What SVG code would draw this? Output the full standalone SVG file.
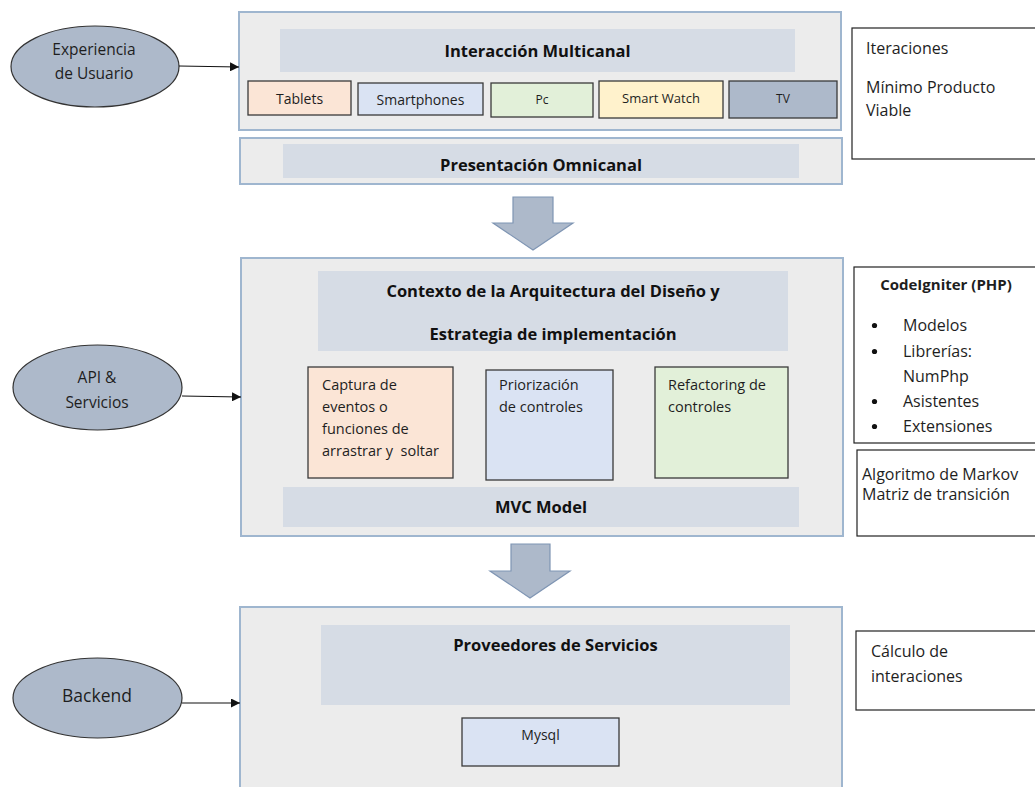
<svg xmlns="http://www.w3.org/2000/svg" width="1035" height="787" viewBox="0 0 1035 787">
  <style>
    text { font-family: "Open Sans", "Liberation Sans", sans-serif; fill: #1e1e1e; }
    .panel { fill: #ececec; stroke: #9fb6cf; stroke-width: 2; }
    .bar { fill: #d6dce5; }
    .title { font-size: 16.5px; font-weight: bold; fill: #111; text-anchor: middle; }
    .box { stroke: #3a3a3a; stroke-width: 1.3; }
    .dev { font-size: 14px; text-anchor: middle; }
    .small { font-size: 13px; text-anchor: middle; }
    .tiny { font-size: 12px; text-anchor: middle; }
    .body { font-size: 14.5px; white-space: pre; }
    .side { font-size: 16px; }
    .dot { fill: #111; }
    .note { fill: #ffffff; stroke: #222; stroke-width: 1.2; }
    .ell { fill: #adb9ca; stroke: #333; stroke-width: 1.2; }
    .etxt { font-size: 15.5px; text-anchor: middle; }
    .peach { fill: #fbe5d6; }
    .blue { fill: #dae3f3; }
    .green { fill: #e2f0d9; }
    .yellow { fill: #fff2cc; }
    .slate { fill: #adb9ca; }
    .flow { fill: #adb9ca; stroke: #7f95b3; stroke-width: 1.2; }
    .link { stroke: #111; stroke-width: 1.1; fill: none; marker-end: url(#tip); }
  </style>
  <defs>
    <marker id="tip" viewBox="0 0 10 10" refX="10" refY="5" markerWidth="9" markerHeight="9" markerUnits="userSpaceOnUse" orient="auto">
      <path d="M0,0 L10,5 L0,10 Z" fill="#111"/>
    </marker>
  </defs>

  <rect width="1035" height="787" fill="#ffffff"/>

  <!-- Multichannel interaction layer -->
  <g id="interaccion">
    <rect class="panel" x="239" y="12" width="602" height="118"/>
    <rect class="bar" x="280" y="29" width="515" height="43"/>
    <text class="title" x="537.5" y="57">Interacción Multicanal</text>
    <g id="tablets">
      <rect class="box peach" x="248" y="81" width="103" height="34"/>
      <text class="dev" x="299.5" y="104">Tablets</text>
    </g>
    <g id="smartphones">
      <rect class="box blue" x="358" y="83" width="125" height="32"/>
      <text class="dev" x="420.5" y="105">Smartphones</text>
    </g>
    <g id="pc">
      <rect class="box green" x="491" y="83" width="102" height="34"/>
      <text class="tiny" x="542" y="104">Pc</text>
    </g>
    <g id="smartwatch">
      <rect class="box yellow" x="599" y="81" width="124" height="37"/>
      <text class="small" x="661" y="103">Smart Watch</text>
    </g>
    <g id="tv">
      <rect class="box slate" x="729" y="81" width="108" height="37"/>
      <text class="tiny" x="783" y="103">TV</text>
    </g>
  </g>

  <!-- Omnichannel presentation layer -->
  <g id="presentacion">
    <rect class="panel" x="240" y="138" width="602" height="46"/>
    <rect class="bar" x="283" y="144" width="516" height="34"/>
    <text class="title" x="541" y="171">Presentación Omnicanal</text>
  </g>

  <!-- Architecture context layer -->
  <g id="contexto">
    <rect class="panel" x="241" y="258" width="602" height="278"/>
    <rect class="bar" x="318" y="271" width="470" height="80"/>
    <text class="title" x="553" y="297">Contexto de la Arquitectura del Diseño y</text>
    <text class="title" x="553" y="340">Estrategia de implementación</text>
    <g id="captura">
      <rect class="box peach" x="308" y="367" width="145" height="111"/>
      <text class="body" x="322" y="390">Captura de</text>
      <text class="body" x="322" y="412">eventos o</text>
      <text class="body" x="322" y="434">funciones de</text>
      <text class="body" x="322" y="456" xml:space="preserve">arrastrar y  soltar</text>
    </g>
    <g id="priorizacion">
      <rect class="box blue" x="486" y="370" width="127" height="110"/>
      <text class="body" x="499" y="390">Priorización</text>
      <text class="body" x="499" y="412">de controles</text>
    </g>
    <g id="refactoring">
      <rect class="box green" x="655" y="367" width="133" height="111"/>
      <text class="body" x="668" y="390">Refactoring de</text>
      <text class="body" x="668" y="412">controles</text>
    </g>
    <rect class="bar" x="283" y="487" width="516" height="40"/>
    <text class="title" x="541" y="513">MVC Model</text>
  </g>

  <!-- Service providers layer -->
  <g id="proveedores">
    <rect class="panel" x="240" y="607" width="602" height="200"/>
    <rect class="bar" x="321" y="625" width="469" height="80"/>
    <text class="title" x="555.5" y="651">Proveedores de Servicios</text>
    <g id="mysql">
      <rect class="box blue" x="462" y="718" width="157" height="48"/>
      <text class="dev" x="540.5" y="740">Mysql</text>
    </g>
  </g>

  <!-- Actors on the left -->
  <g id="experiencia">
    <ellipse class="ell" cx="95" cy="66.5" rx="84" ry="40.5"/>
    <text class="etxt" x="94" y="55">Experiencia</text>
    <text class="etxt" x="94" y="79">de Usuario</text>
  </g>
  <g id="api">
    <ellipse class="ell" cx="97.5" cy="387.5" rx="84.5" ry="42.5"/>
    <text class="etxt" x="97" y="383">API &amp;</text>
    <text class="etxt" x="97" y="408">Servicios</text>
  </g>
  <g id="backend">
    <ellipse class="ell" cx="97.5" cy="698" rx="84.5" ry="40"/>
    <text class="etxt" x="97" y="702" style="font-size:17.5px">Backend</text>
  </g>

  <!-- Notes on the right -->
  <g id="nota-iteraciones">
    <rect class="note" x="852" y="28" width="200" height="131"/>
    <text class="side" x="866" y="54">Iteraciones</text>
    <text class="side" x="866" y="93">Mínimo Producto</text>
    <text class="side" x="866" y="116">Viable</text>
  </g>
  <g id="nota-codeigniter">
    <rect class="note" x="854" y="267" width="200" height="176"/>
    <text class="side" x="946" y="290" style="font-weight:bold;font-size:15px;text-anchor:middle">CodeIgniter (PHP)</text>
    <circle class="dot" cx="874.5" cy="325.5" r="2.6"/>
    <circle class="dot" cx="874.5" cy="351.5" r="2.6"/>
    <circle class="dot" cx="874.5" cy="401.5" r="2.6"/>
    <circle class="dot" cx="874.5" cy="426.5" r="2.6"/>
    <g class="side">
      <text x="903" y="331">Modelos</text>
      <text x="903" y="357">Librerías:</text>
      <text x="903" y="382">NumPhp</text>
      <text x="903" y="407">Asistentes</text>
      <text x="903" y="432">Extensiones</text>
    </g>
  </g>
  <g id="nota-markov">
    <rect class="note" x="857" y="450" width="200" height="86"/>
    <text class="side" x="862" y="480">Algoritmo de Markov</text>
    <text class="side" x="862" y="500">Matriz de transición</text>
  </g>
  <g id="nota-calculo">
    <rect class="note" x="856" y="631" width="200" height="79"/>
    <text class="side" x="871" y="657">Cálculo de</text>
    <text class="side" x="871" y="682">interaciones</text>
  </g>

  <!-- Connectors -->
  <g id="connectors">
    <line class="link" x1="179" y1="66" x2="239" y2="67"/>
    <line class="link" x1="182" y1="396" x2="241" y2="397"/>
    <line class="link" x1="182" y1="703" x2="240" y2="703"/>
    <path class="flow" d="M513,197 H553 V223 H573 L533,250 L493,223 H513 Z"/>
    <path class="flow" d="M511,544 H550 V571 H570 L530,598 L490,571 H511 Z"/>
  </g>
</svg>
